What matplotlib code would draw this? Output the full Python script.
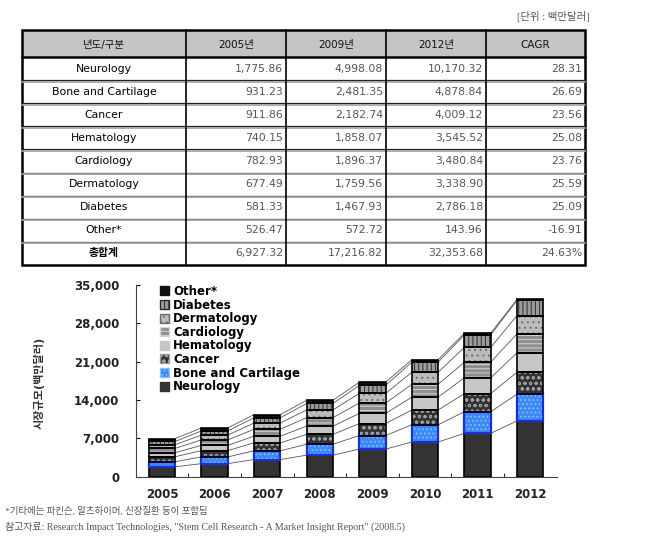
import numpy as np
import matplotlib
matplotlib.use("Agg")
import matplotlib.pyplot as plt
from matplotlib.patches import Rectangle, Patch
from matplotlib.ticker import MultipleLocator, FuncFormatter

plt.rcParams['font.family'] = ['DejaVu Sans', 'Noto Sans CJK KR']
plt.rcParams['hatch.linewidth'] = 0.7

# ---- data -------------------------------------------------------------
years = [2005, 2006, 2007, 2008, 2009, 2010, 2011, 2012]
categories = ["Neurology", "Bone and Cartilage", "Cancer", "Hematology",
              "Cardiology", "Dermatology", "Diabetes", "Other*"]

neurology = [1775.86, 2350, 3100, 3900, 4998.08, 6300, 7900, 10170.32]
bone_cartilage = [931.23, 1230, 1600, 2000, 2481.35, 3150, 3950, 4878.84]
cancer = [911.86, 1150, 1450, 1800, 2182.74, 2700, 3300, 4009.12]
hematology = [740.15, 960, 1230, 1500, 1858.07, 2350, 2900, 3545.52]
cardiology = [782.93, 1000, 1260, 1550, 1896.37, 2350, 2850, 3480.84]
dermatology = [677.49, 880, 1140, 1420, 1759.56, 2200, 2700, 3338.90]
diabetes = [581.33, 760, 960, 1180, 1467.93, 1850, 2280, 2786.18]
other = [526.47, 550, 570, 580, 572.72, 450, 330, 143.96]
series = [neurology, bone_cartilage, cancer, hematology,
          cardiology, dermatology, diabetes, other]

cagr = ["28.31", "26.69", "23.56", "25.08", "23.76", "25.59", "25.09", "-16.91"]
total_cagr = "24.63%"
table_years = [2005, 2009, 2012]
header = ["년도/구분", "2005년", "2009년", "2012년", "CAGR"]
total_label = "총합계"

unit_text = "[단위 : 백만달러]"
ylabel = "시장규모(백만달러)"
note1 = "*기타에는 파킨슨, 알츠하이머, 신장질환 등이 포함됨"
note2 = ("참고자료: Research Impact Technologies, "
         "\"Stem Cell Research - A Market Insight Report\" (2008.5)")

# ---- styles -----------------------------------------------------------
faces = ['#333333', '#3d8af5', '#333333', '#c6c6c6',
         '#8e8e8e', '#bcbcbc', '#9c9c9c', '#111111']
hatches = [None, '....', 'ooo', None, '----', '...', '||||', None]
hatch_cols = ['#333333', '#8fc0ff', '#a0a0a0', '#c6c6c6',
              '#d4d4d4', '#6a6a6a', '#2e2e2e', '#111111']
outlines = ['black', '#1a2fd8', 'black', 'black',
            'black', 'black', 'black', 'black']

fig = plt.figure(figsize=(6.5, 5.5), dpi=100)

# ---- table (drawn in pixel coordinates) ------------------------------
ov = fig.add_axes([0, 0, 1, 1])
ov.set_xlim(0, 650)
ov.set_ylim(550, 0)
ov.axis('off')

col_x = [22, 186, 286, 386, 486, 585]
row_y = [30, 57] + [57 + 23.1 * (i + 1) for i in range(9)]

ov.add_patch(Rectangle((col_x[0], row_y[0]), col_x[-1] - col_x[0],
                       row_y[1] - row_y[0], facecolor='#c4c4c4',
                       edgecolor='none'))

for y in row_y[2:-1]:
    ov.plot([col_x[0], col_x[-1]], [y, y], color='#222222', lw=0.9)
    ov.plot([col_x[0], col_x[-1]], [y + 1.4, y + 1.4], color='#a0a0a0', lw=1.2)
ov.plot([col_x[0], col_x[-1]], [row_y[1], row_y[1]], color='black', lw=1.8)
for xx in col_x[1:-1]:
    ov.plot([xx, xx], [row_y[0], row_y[-1]], color='black', lw=1.2)
ov.add_patch(Rectangle((col_x[0], row_y[0]), col_x[-1] - col_x[0],
                       row_y[-1] - row_y[0], fill=False,
                       edgecolor='black', lw=1.8))

for j, h in enumerate(header):
    ov.text((col_x[j] + col_x[j + 1]) / 2, (row_y[0] + row_y[1]) / 2 + 0.5, h,
            ha='center', va='center_baseline', fontsize=7.5, color='#111111')

idx = [years.index(y) for y in table_years]
totals = [sum(s[i] for s in series) for i in idx]
rows = []
for name, s, c in zip(categories, series, cagr):
    rows.append((name, [s[i] for i in idx], c, 'normal'))
rows.append((total_label, totals, total_cagr, 'bold'))

for r, (name, vals, c, wt) in enumerate(rows):
    yc = (row_y[r + 1] + row_y[r + 2]) / 2
    ov.text((col_x[0] + col_x[1]) / 2, yc, name, ha='center', va='center',
            fontsize=7.8, color='black', fontweight=wt)
    for j, v in enumerate(vals):
        ov.text(col_x[j + 2] - 3, yc, f"{v:,.2f}", ha='right', va='center',
                fontsize=7.8, color='#555555')
    ov.text(col_x[5] - 3, yc, c, ha='right', va='center',
            fontsize=7.8, color='#555555')

ov.text(590, 16, unit_text, ha='right', va='center', fontsize=7.5,
        color='#555555', family=['Liberation Serif', 'Noto Sans CJK KR'])
ov.text(5, 511, note1, ha='left', va='center', fontsize=6.8,
        color='#555555', family=['Liberation Serif', 'Noto Sans CJK KR'])
ov.text(5, 527, note2, ha='left', va='center', fontsize=7.2,
        color='#555555', family=['Liberation Serif', 'Noto Sans CJK KR'])

# ---- stacked bar chart ------------------------------------------------
ax = fig.add_axes([136 / 650, 1 - 476.5 / 550, (557 - 136) / 650,
                   (476.5 - 285) / 550])
x = np.arange(len(years))
w = 0.5
bottom = np.zeros(len(years))
tops = []
for name, vals, fc, h, hc, oc in zip(categories, series, faces, hatches,
                                     hatch_cols, outlines):
    vals = np.array(vals, dtype=float)
    ax.bar(x, vals, w, bottom=bottom, color=fc, hatch=h, edgecolor=hc,
           linewidth=0, zorder=2)
    ax.bar(x, vals, w, bottom=bottom, fill=False, edgecolor=oc,
           linewidth=1.2 if oc == 'black' else 1.6, zorder=3)
    bottom = bottom + vals
    tops.append(bottom.copy())

for t in tops:
    for i in range(len(x) - 1):
        ax.plot([x[i] + w / 2, x[i + 1] - w / 2], [t[i], t[i + 1]],
                color='#555555', lw=0.6, zorder=1)

ax.set_xlim(-0.495, 7.51)
ax.set_ylim(0, 35000)
ax.yaxis.set_major_locator(MultipleLocator(7000))
ax.yaxis.set_major_formatter(FuncFormatter(lambda v, p: f"{v:,.0f}"))
ax.set_xticks(x)
ax.set_xticklabels([str(y) for y in years])
ax.set_xticks(x[:-1] + 0.5, minor=True)
ax.tick_params(axis='x', which='major', length=0, pad=8)
ax.tick_params(axis='x', which='minor', direction='in', length=3)
ax.tick_params(axis='y', direction='in', length=3, pad=12)
for lab in ax.get_xticklabels() + ax.get_yticklabels():
    lab.set_fontweight('bold')
    lab.set_fontsize(8.5)
    lab.set_color('#222222')
for s in ['top', 'right']:
    ax.spines[s].set_visible(False)
ax.spines['left'].set_color('#444444')
ax.spines['bottom'].set_color('#444444')

ax.set_ylabel(ylabel, fontsize=8, fontweight='bold', color='#333333')
ax.yaxis.set_label_coords(-0.216, 0.49)

handles = [Patch(facecolor=fc, hatch=h, edgecolor=hc)
           for fc, h, hc in zip(faces, hatches, hatch_cols)]
ax.legend(handles[::-1], categories[::-1], loc='upper left',
          bbox_to_anchor=(0.057, 1.0), frameon=False,
          prop={'weight': 'bold', 'size': 8.5}, handlelength=0.8,
          handleheight=0.8, labelspacing=0.05, handletextpad=0.3,
          borderpad=0, borderaxespad=0)

fig.savefig("out.png", dpi=100)
